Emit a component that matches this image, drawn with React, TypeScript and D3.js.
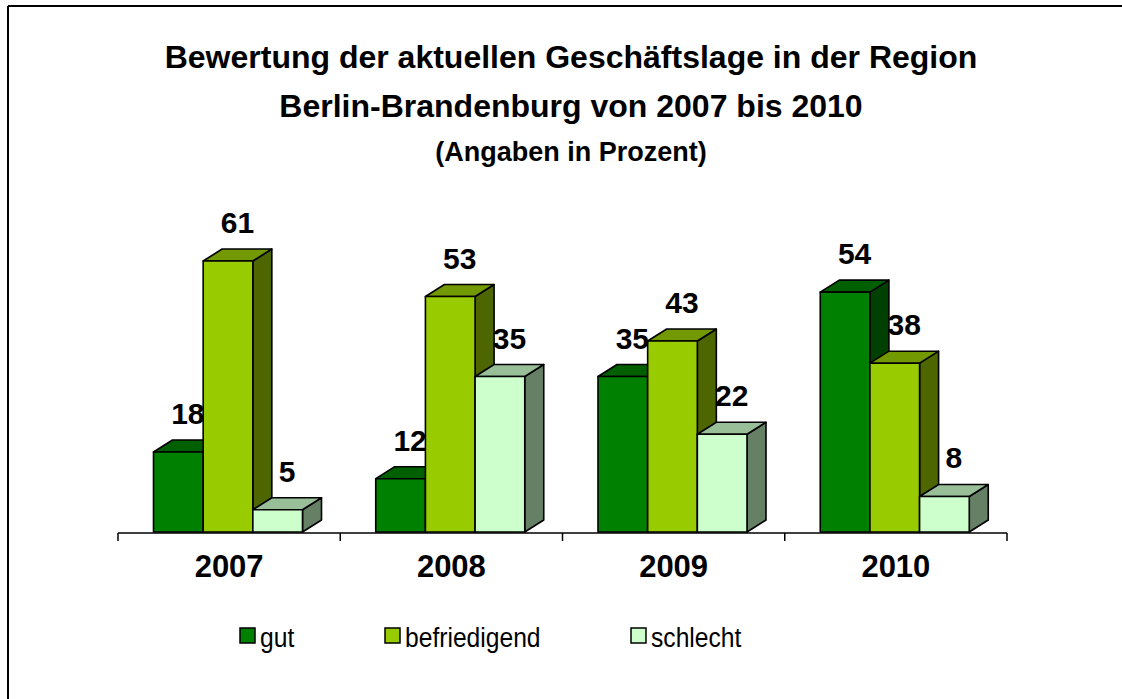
import React from 'react';
import * as d3 from 'd3';

const years = ['2007', '2008', '2009', '2010'];
const seriesNames = ['gut', 'befriedigend', 'schlecht'];
const gut = [18, 12, 35, 54];
const befriedigend = [61, 53, 43, 38];
const schlecht = [5, 35, 22, 8];
const titleLines = [
  'Bewertung der aktuellen Geschäftslage in der Region',
  'Berlin-Brandenburg von 2007 bis 2010',
];
const subtitle = '(Angaben in Prozent)';

const frontColors = ['#008000', '#99CC00', '#CCFFCC'];
const topColors = ['#006000', '#739900', '#99BF99'];
const sideColors = ['#004000', '#4D6600', '#668066'];

const W = 1122;
const H = 699;
const FONT = 'Arial, "Liberation Sans", sans-serif';

export default function App() {
  const values = [gut, befriedigend, schlecht];
  const x0 = d3.scaleBand<string>().domain(years).range([118, 1007]);
  const x1 = d3.scaleBand<string>().domain(seriesNames).range([35.5, 184.5]);
  const y = d3.scaleLinear().domain([0, 61]).range([532, 261]);
  const dx = 19;
  const dy = 12;
  const bw = x1.bandwidth();

  const bars: any[] = [];
  years.forEach((yr, i) => {
    seriesNames.forEach((s, j) => {
      const v = values[j][i];
      const xl = (x0(yr) as number) + (x1(s) as number);
      const xr = xl + bw;
      const yt = y(v);
      const yb = y(0);
      bars.push({ key: `${yr}-${s}`, xl, xr, yt, yb, v, j });
    });
  });

  const legendX = [240, 385, 631];

  return (
    <svg
      width={W}
      height={H}
      style={{ position: 'absolute', left: 0, top: 0, background: '#fff' }}
      fontFamily={FONT}
    >
      <rect x={0} y={0} width={W} height={H} fill="#fff" />
      <line x1={8} y1={6} x2={W} y2={6} stroke="#000" strokeWidth={2} />
      <line x1={8} y1={6} x2={8} y2={H} stroke="#000" strokeWidth={2} />

      {titleLines.map((t, i) => (
        <text
          key={t}
          x={571}
          y={68 + i * 49}
          textAnchor="middle"
          fontWeight="bold"
          fontSize={32}
        >
          {t}
        </text>
      ))}
      <text x={571} y={161} textAnchor="middle" fontWeight="bold" fontSize={27}>
        {subtitle}
      </text>

      {bars.map((b) => (
        <g key={b.key} stroke="#000" strokeWidth={1.6} strokeLinejoin="round">
          <path
            d={`M${b.xr},${b.yb}L${b.xr + dx},${b.yb - dy}L${b.xr + dx},${b.yt - dy}L${b.xr},${b.yt}Z`}
            fill={sideColors[b.j]}
          />
          <path
            d={`M${b.xl},${b.yt}L${b.xl + dx},${b.yt - dy}L${b.xr + dx},${b.yt - dy}L${b.xr},${b.yt}Z`}
            fill={topColors[b.j]}
          />
          <rect x={b.xl} y={b.yt} width={bw} height={b.yb - b.yt} fill={frontColors[b.j]} />
        </g>
      ))}

      {bars.map((b) => (
        <text
          key={`l-${b.key}`}
          x={(b.xl + b.xr) / 2 + dx / 2}
          y={b.yt - dy - 16}
          textAnchor="middle"
          fontWeight="bold"
          fontSize={30}
        >
          {b.v}
        </text>
      ))}

      <line x1={118} y1={533} x2={1007} y2={533} stroke="#000" strokeWidth={1.5} />
      {[...years.map((yr) => x0(yr) as number), 1007].map((tx, i) => (
        <line key={`t${i}`} x1={tx} y1={533} x2={tx} y2={541} stroke="#000" strokeWidth={1.5} />
      ))}
      {years.map((yr) => (
        <text
          key={`c${yr}`}
          x={(x0(yr) as number) + x0.bandwidth() / 2}
          y={577}
          textAnchor="middle"
          fontWeight="bold"
          fontSize={31}
        >
          {yr}
        </text>
      ))}

      {seriesNames.map((s, j) => (
        <g key={`lg${s}`}>
          <rect
            x={legendX[j]}
            y={628}
            width={15}
            height={15}
            fill={frontColors[j]}
            stroke="#000"
            strokeWidth={1.5}
          />
          <text
            transform={`translate(${legendX[j] + 20},647) scale(0.88,1)`}
            fontSize={28}
          >
            {s}
          </text>
        </g>
      ))}
    </svg>
  );
}
